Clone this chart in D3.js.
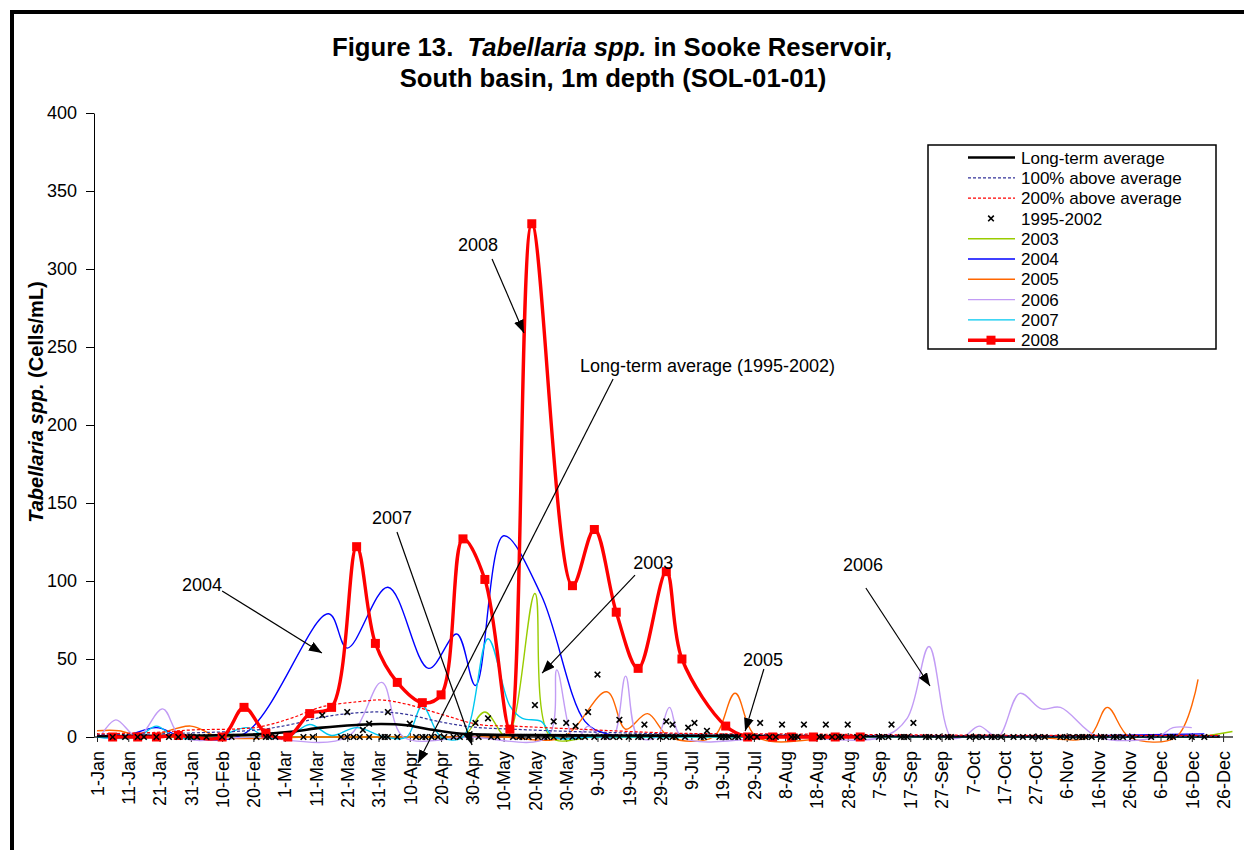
<!DOCTYPE html>
<html>
<head>
<meta charset="utf-8">
<script src="https://cdn.jsdelivr.net/npm/d3@7"></script>
<style>
  body { margin: 0; background: #fff; }
  svg { display: block; font-family: "Liberation Sans", Arial, sans-serif; }
  text { white-space: pre; }
</style>
</head>
<body>
<svg id="chart" width="1244" height="850"></svg>
<script>
// Values are [day of year (2008 calendar), cells/mL]
const tickLabels = ['1-Jan','11-Jan','21-Jan','31-Jan','10-Feb','20-Feb','1-Mar','11-Mar','21-Mar','31-Mar',
  '10-Apr','20-Apr','30-Apr','10-May','20-May','30-May','9-Jun','19-Jun','29-Jun','9-Jul','19-Jul','29-Jul',
  '8-Aug','18-Aug','28-Aug','7-Sep','17-Sep','27-Sep','7-Oct','17-Oct','27-Oct','6-Nov','16-Nov','26-Nov',
  '6-Dec','16-Dec','26-Dec'];
const yTicks = [0, 50, 100, 150, 200, 250, 300, 350, 400];

const longTermAvg = [[1,0.5],[20,0.7],[35,1],[52,1.7],[63,3.4],[73,6],[84,7.7],[92,8.3],[100,7.5],[107,5],
  [116,2.4],[125,1.5],[140,1.2],[160,1],[180,0.9],[210,0.7],[240,0.5],[270,0.4],[300,0.3],[330,0.3],[360,0.3]];
const above100 = [[1,1.5],[20,2],[31,2.6],[52,4.5],[63,8],[73,12.7],[84,15.5],[92,16],[100,14.5],[110,10],
  [121,6.4],[134,5],[155,3.4],[187,2],[220,1.5],[250,1],[280,0.8],[310,0.6],[340,0.6],[360,0.6]];
const above200 = [[1,2],[20,3],[31,4.5],[52,6.2],[63,12],[73,19.4],[84,22.5],[92,23.7],[100,21],[112,14],
  [123,8],[134,7],[155,5],[187,2.4],[220,2],[250,1.5],[280,1.2],[310,1],[340,1],[360,1]];

const obs1995to2002 = [[6,0],[10,0],[14,0],[16,0],[20,0],[24,0],[27,0],[30,0],[31,0],[33,0],[36,0],[41,0],
  [44,0],[52,0],[55,0],[56,0],[58,0],[67,0],[70,0],[73,14],[79,0],[81,0],[81,16],[83,0],[85,0],[86,4.5],
  [88,0],[88,8.5],[92,0],[93,0],[94,0],[94,16],[97,0],[101,8.5],[103,0],[105,0],[106,0],[108,0],[110,0],
  [112,0],[115,0],[117,0],[120,0],[122,9],[123,0],[126,12],[127,0],[129,0],[134,0],[136,0],[137,0],[139,0],
  [141,20.5],[142,0],[144,0],[145,0],[147,0],[147,10],[150,0],[151,9],[153,0],[154,7],[155,0],[157,0],
  [158,16],[160,0],[161,40],[163,0],[164,0],[166,0],[168,0],[168,11],[171,0],[174,0],[175,0],[176,8],
  [178,0],[181,0],[183,0],[183,10],[185,0],[185,8],[186,0],[189,0],[190,6],[192,9],[194,0],[195,0],[196,4],
  [200,0],[201,0],[202,0],[203,0],[205,0],[206,0],[209,0],[210,0],[212,0],[213,9],[216,0],[218,0],[220,8],
  [223,0],[224,0],[225,0],[227,8],[232,0],[233,0],[234,8],[236,0],[238,0],[239,0],[241,8],[244,0],[246,0],
  [251,0],[252,0],[254,0],[255,8],[258,0],[259,0],[260,0],[262,9],[266,0],[267,0],[270,0],[273,0],[274,0],
  [280,0],[282,0],[284,0],[287,0],[288,0],[290,0],[294,0],[297,0],[300,0],[302,0],[304,0],[309,0],[311,0],
  [313,0],[315,0],[316,0],[317,0],[319,0],[322,0],[323,0],[326,0],[327,0],[329,0],[332,0],[338,0],[344,0],
  [345,0],[351,0],[355,0]];

const y2003 = [[1,0],[15,0],[36,0],[64,0],[92,0],[111,0],[118,0],[125,16],[132,0],[141,92],[146,0],[160,0],
  [190,0],[220,0],[250,0],[280,0],[310,0],[340,0],[352,0],[364,3.5]];
const y2004 = [[1,0],[9,0],[20,6],[28,0.5],[48,2],[75,79],[81,57],[94,96],[107,44],[116,66],[122,33],[131,129],
  [143,91],[157,10],[164,2],[178,1],[192,0.5],[220,0.5],[250,0.5],[280,0.5],[306,0.5],[325,1],[355,2]];
const y2005 = [[1,4],[8,4],[16,0],[31,7],[40,0],[70,0],[100,0],[130,0],[150,0],[164,29],[170,5],[177,15],
  [184,0],[198,0],[205,28],[212,0],[240,0],[270,0],[300,0],[318,0],[324,19],[331,0],[346,0],[353,37]];
const y2006 = [[2,0],[7,11],[14,0],[22,18],[28,0],[50,0],[81,0],[92,35],[99,0],[120,0],[145,0],[148,43],
  [153,0],[155,0],[158,7],[162,0],[166,0],[170,39],[174,0],[180,0],[184,19],[188,0],[220,0],[252,0],[260,12],
  [267,58],[274,0],[278,0],[283,7],[289,0],[296,28],[303,18],[309,19],[321,0],[340,0],[345,6],[351,6]];
const y2007 = [[1,0],[14,0],[20,7],[26,0],[39,0],[49,6],[55,0],[62,0],[69,8],[76,1],[84,6],[93,0],[100,0],
  [105,20],[111,0],[118,0],[126,63],[133,20],[137,12],[143,10],[147,0],[160,0],[190,0],[220,0],[250,0],
  [280,0],[310,0],[340,0],[355,0]];
const y2008 = [[6,0],[14,0],[20,0],[27,1],[41,0],[48,19],[55,2.5],[62,0],[69,15],[76,19],[84,122],[90,60],
  [97,35],[105,22],[111,27],[118,127],[125,101],[133,5],[140,329],[153,97],[160,133],[167,80],[174,44],
  [183,106],[188,50],[202,7],[209,0],[217,0],[223,0],[230,0],[237,0],[245,0]];

// label, text anchor, arrow start, arrow tip (all in [day, cells/mL])
const notes = [
  ['2008', [116.4, 311.5], [127.3, 306.4], [137.5, 259]],
  ['Long-term average (1995-2002)', [155.4, 234], [166, 229.5], [103.6, -16.7]],
  ['2007', [88.9, 136.5], [96.9, 131.4], [120.9, -5.1]],
  ['2004', [28.2, 93.6], [41, 93.6], [72.9, 53.8]],
  ['2003', [172.4, 107.7], [173, 103.8], [143.3, 41]],
  ['2005', [207.5, 45.5], [214.2, 43.6], [208.2, 3.8]],
  ['2006', [239.5, 106.4], [246.8, 95.5], [267.3, 32.7]]
];

const dayDate = d => new Date(Date.UTC(2008, 0, 1) + (d - 1) * 864e5);
const parseTick = d3.utcParse('%d-%b-%Y');

const svg = d3.select('#chart');

// outer frame
svg.append('path').attr('d', 'M12,852V12H1246')
  .attr('fill', 'none').attr('stroke', '#000').attr('stroke-width', 4);

const x = d3.scaleUtc().domain([dayDate(1), dayDate(366)]).range([97, 97 + 365 * 3.128]);
const y = d3.scaleLinear().domain([0, 400]).range([737, 113]);

// title
const title = svg.append('g').attr('font-weight', 'bold').attr('font-size', 25.7).attr('text-anchor', 'middle');
const t1 = title.append('text').attr('x', 612).attr('y', 56);
t1.append('tspan').text('Figure 13.  ');
t1.append('tspan').attr('font-style', 'italic').text('Tabellaria spp.');
t1.append('tspan').text(' in Sooke Reservoir,');
title.append('text').attr('x', 613).attr('y', 87).text('South basin, 1m depth (SOL-01-01)');

// y axis
const yAxis = svg.append('g').attr('transform', 'translate(94,0)')
  .call(d3.axisLeft(y).tickValues(yTicks).tickSize(8).tickPadding(9).tickSizeOuter(0));
yAxis.selectAll('text').attr('font-size', 18).attr('font-family', 'Liberation Sans, Arial, sans-serif').attr('fill', '#000');
yAxis.select('.domain').attr('stroke', '#000');

const yTitle = svg.append('text').attr('transform', 'translate(43,402) rotate(-90)')
  .attr('text-anchor', 'middle').attr('font-weight', 'bold').attr('font-size', 20);
yTitle.append('tspan').attr('font-style', 'italic').text('Tabellaria spp.');
yTitle.append('tspan').text(' (Cells/mL)');

// x axis
const tickDates = tickLabels.map(s => parseTick(s + '-2008'));
const xAxis = svg.append('g').attr('transform', 'translate(0,737)')
  .call(d3.axisBottom(x).tickValues(tickDates).tickSize(5).tickFormat((d, i) => tickLabels[i]));
xAxis.select('.domain').remove();
xAxis.selectAll('.tick line').attr('y1', -4).attr('y2', 5).attr('stroke', '#222');
xAxis.selectAll('.tick text')
  .attr('transform', 'rotate(-90)').attr('text-anchor', 'end')
  .attr('x', -14).attr('y', 0).attr('dy', '0.35em')
  .attr('font-size', 18).attr('font-family', 'Liberation Sans, Arial, sans-serif').attr('fill', '#000');
xAxis.append('line').attr('x1', 94).attr('x2', 1233).attr('stroke', '#333').attr('stroke-width', 1.6);

const line = d3.line()
  .x(d => x(dayDate(d[0])))
  .y(d => y(d[1]))
  .curve(d3.curveCatmullRom);

const plot = svg.append('g');
const yearSeries = [
  [y2003, '#99cc00'], [y2004, '#0000ff'], [y2005, '#ff6600'], [y2006, '#c29cf5'], [y2007, '#00c8f0']
];
yearSeries.forEach(([data, color]) => {
  plot.append('path').datum(data).attr('d', line)
    .attr('fill', 'none').attr('stroke', color).attr('stroke-width', 1.4);
});

plot.append('path').datum(longTermAvg).attr('d', line)
  .attr('fill', 'none').attr('stroke', '#000').attr('stroke-width', 2.6);
plot.append('path').datum(above100).attr('d', line)
  .attr('fill', 'none').attr('stroke', '#333399').attr('stroke-width', 1.2).attr('stroke-dasharray', '3,2');
plot.append('path').datum(above200).attr('d', line)
  .attr('fill', 'none').attr('stroke', '#ff0000').attr('stroke-width', 1.2).attr('stroke-dasharray', '3,2');

// 2008
plot.append('path').datum(y2008).attr('d', line)
  .attr('fill', 'none').attr('stroke', '#ff0000').attr('stroke-width', 3.4);
plot.selectAll('rect.m2008').data(y2008).join('rect').attr('class', 'm2008')
  .attr('x', d => x(dayDate(d[0])) - 4.5).attr('y', d => y(d[1]) - 4.5)
  .attr('width', 9).attr('height', 9).attr('fill', '#ff0000');

// 1995-2002 observations
const cross = 'M-2.8,-2.8L2.8,2.8M-2.8,2.8L2.8,-2.8';
plot.selectAll('path.obs').data(obs1995to2002).join('path').attr('class', 'obs')
  .attr('transform', d => `translate(${x(dayDate(d[0]))},${y(d[1])})`)
  .attr('d', cross).attr('stroke', '#000').attr('stroke-width', 1.6).attr('fill', 'none');

// annotations
svg.append('defs').append('marker')
  .attr('id', 'arrow').attr('viewBox', '0 0 13 10').attr('refX', 13).attr('refY', 5)
  .attr('markerWidth', 13).attr('markerHeight', 10).attr('markerUnits', 'userSpaceOnUse')
  .attr('orient', 'auto')
  .append('path').attr('d', 'M0,0L13,5L0,10Z').attr('fill', '#000');

const pt = p => [x(dayDate(p[0])), y(p[1])];
notes.forEach(([label, at, from, to]) => {
  const a = pt(at), f = pt(from), t = pt(to);
  svg.append('text').attr('x', a[0]).attr('y', a[1]).attr('font-size', 18).text(label);
  svg.append('line').attr('x1', f[0]).attr('y1', f[1]).attr('x2', t[0]).attr('y2', t[1])
    .attr('stroke', '#000').attr('stroke-width', 1.2).attr('marker-end', 'url(#arrow)');
});

// legend
const legendItems = [
  { name: 'Long-term average', color: '#000', width: 2.6 },
  { name: '100% above average', color: '#333399', width: 1.2, dash: '3,2' },
  { name: '200% above average', color: '#ff0000', width: 1.2, dash: '3,2' },
  { name: '1995-2002', cross: true },
  { name: '2003', color: '#99cc00', width: 1.4 },
  { name: '2004', color: '#0000ff', width: 1.4 },
  { name: '2005', color: '#ff6600', width: 1.4 },
  { name: '2006', color: '#c29cf5', width: 1.4 },
  { name: '2007', color: '#00c8f0', width: 1.4 },
  { name: '2008', color: '#ff0000', width: 3.4, square: true }
];
const legend = svg.append('g');
legend.append('rect').attr('x', 928).attr('y', 145).attr('width', 288).attr('height', 204)
  .attr('fill', '#fff').attr('stroke', '#000').attr('stroke-width', 1.5);
legendItems.forEach((it, i) => {
  const ly = 157.5 + i * 20.3;
  const g = legend.append('g').attr('transform', `translate(0,${ly})`);
  if (it.cross) {
    g.append('path').attr('transform', 'translate(991,0)').attr('d', cross)
      .attr('stroke', '#000').attr('stroke-width', 1.6);
  } else {
    g.append('line').attr('x1', 968).attr('x2', 1015)
      .attr('stroke', it.color).attr('stroke-width', it.width)
      .attr('stroke-dasharray', it.dash || null);
  }
  if (it.square) {
    g.append('rect').attr('x', 986.5).attr('y', -4.5).attr('width', 9).attr('height', 9).attr('fill', '#ff0000');
  }
  g.append('text').attr('x', 1021).attr('y', 0).attr('dy', '0.36em').attr('font-size', 17).text(it.name);
});
</script>
</body>
</html>
